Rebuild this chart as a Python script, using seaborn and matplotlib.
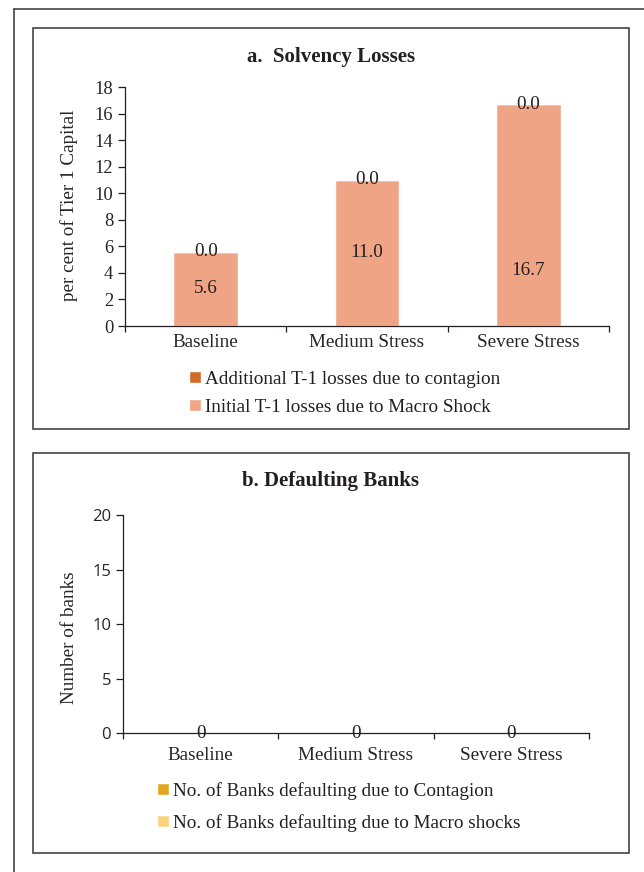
import numpy as np
import pandas as pd
import matplotlib
matplotlib.use('Agg')
import matplotlib.pyplot as plt
from matplotlib.lines import Line2D
from matplotlib.patches import Rectangle
import seaborn as sns

# data
scenarios = ['Baseline', 'Medium Stress', 'Severe Stress']
initial_loss = [5.6, 11.0, 16.7]
contagion_loss = [0.0, 0.0, 0.0]
banks_macro = [0, 0, 0]
banks_contagion = [0, 0, 0]

sns.set_theme(style='white')
plt.rcParams['font.family'] = ['Liberation Serif', 'DejaVu Serif']
plt.rcParams['text.color'] = '#231f20'

FS = 13.8

fig = plt.figure(figsize=(6.44, 8.72), dpi=100)
W, H = 644, 872

def fx(px):
    return px / W

def fy(py):
    return 1 - py / H

# frames
fig.add_artist(Line2D([fx(14), fx(14)], [fy(9), 0], color='#444444', lw=1.2))
fig.add_artist(Line2D([fx(14), 1], [fy(9), fy(9)], color='#444444', lw=1.2))
for top, bot in [(28, 429), (453, 853)]:
    fig.add_artist(Rectangle((fx(33), fy(bot)), fx(629) - fx(33), fy(top) - fy(bot),
                             fill=False, edgecolor='#444444', lw=1.2))

c_init = '#F0A486'
c_cont = '#CF6A2A'
c_bcont = '#E0A822'
c_bmacro = '#FCD27F'

def style_axes(ax, pad):
    sns.despine(ax=ax)
    for s in ['left', 'bottom']:
        ax.spines[s].set_color('#231f20')
        ax.spines[s].set_linewidth(0.9)
    ax.set_xlim(-0.5, 2.5)
    ax.set_xticks([-0.5, 0.5, 1.5, 2.5])
    ax.set_xticklabels([])
    ax.set_xticks([0, 1, 2], minor=True)
    ax.set_xticklabels(scenarios, minor=True, fontsize=FS)
    ax.tick_params(axis='x', which='major', direction='out', length=4, width=0.9, color='#231f20', bottom=True)
    ax.tick_params(axis='x', which='minor', length=0, pad=pad)
    ax.tick_params(axis='y', direction='out', length=5, width=0.9, color='#231f20', left=True, labelsize=13.3)
    ax.set_xlabel('')

# ---- panel a
df_a = pd.DataFrame({'scenario': scenarios, 'initial': initial_loss, 'contagion': contagion_loss})
ax1 = fig.add_axes([fx(125), fy(326), fx(609) - fx(125), fy(87) - fy(326)])
sns.barplot(data=df_a, x='scenario', y='initial', color=c_init, width=0.4, ax=ax1,
            saturation=1, label='Initial T-1 losses due to Macro Shock')
sns.barplot(data=df_a, x='scenario', y='contagion', color=c_cont, width=0.4, ax=ax1,
            saturation=1, bottom=df_a['initial'].values, label='Additional T-1 losses due to contagion')
lab_init = ax1.bar_label(ax1.containers[0], fmt='%.1f', label_type='center', fontsize=FS)
ax1.bar_label(ax1.containers[1], fmt='%.1f', label_type='center', fontsize=FS)
# the severe-stress label sits lower in the original
lab_init[2].xyann = (0, -40)
ax1.set_ylim(0, 18)
ax1.set_yticks(np.arange(0, 19, 2))
style_axes(ax1, 6)
ax1.set_ylabel('per cent of Tier 1 Capital', fontsize=FS)
ax1.yaxis.set_label_coords(-0.097, 0.506)
fig.text(fx(331), fy(57), 'a.  Solvency Losses', ha='center', va='center', fontsize=15, fontweight='bold')

h, l = ax1.get_legend_handles_labels()
ax1.legend(h[::-1], l[::-1], loc='upper left', bbox_to_anchor=(fx(189), fy(371)),
           bbox_transform=fig.transFigure, frameon=False, fontsize=FS,
           handlelength=0.6, handleheight=0.6, handletextpad=0.25, labelspacing=0.55,
           borderpad=0, borderaxespad=0)

# ---- panel b
df_b = pd.DataFrame({'scenario': scenarios, 'macro': banks_macro, 'contagion': banks_contagion})
ax2 = fig.add_axes([fx(123), fy(733), fx(589) - fx(123), fy(515) - fy(733)])
sns.barplot(data=df_b, x='scenario', y='macro', color=c_bmacro, width=0.4, ax=ax2,
            saturation=1, label='No. of Banks defaulting due to Macro shocks')
sns.barplot(data=df_b, x='scenario', y='contagion', color=c_bcont, width=0.4, ax=ax2,
            saturation=1, bottom=df_b['macro'].values, label='No. of Banks defaulting due to Contagion')
ax2.bar_label(ax2.containers[1], fmt='%d', label_type='center', fontsize=FS)
ax2.set_ylim(0, 20)
ax2.set_yticks(np.arange(0, 21, 5))
style_axes(ax2, 10)
for t in ax2.get_yticklabels():
    t.set_fontfamily('Open Sans')
    t.set_fontsize(12)
ax2.set_ylabel('Number of banks', fontsize=FS)
ax2.yaxis.set_label_coords(-0.097, 0.436)
fig.text(fx(331), fy(481), 'b. Defaulting Banks', ha='center', va='center', fontsize=15, fontweight='bold')

h, l = ax2.get_legend_handles_labels()
ax2.legend(h[::-1], l[::-1], loc='upper left', bbox_to_anchor=(fx(157), fy(782)),
           bbox_transform=fig.transFigure, frameon=False, fontsize=FS,
           handlelength=0.6, handleheight=0.6, handletextpad=0.25, labelspacing=0.75,
           borderpad=0, borderaxespad=0)

fig.savefig('out.png', dpi=100)
